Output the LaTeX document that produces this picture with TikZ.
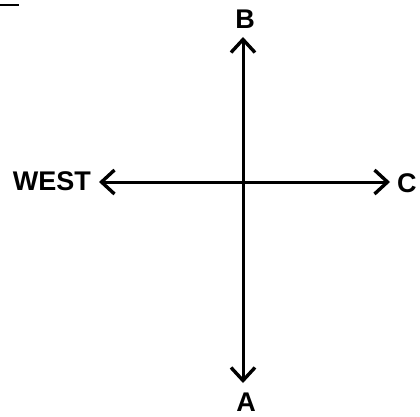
\documentclass[tikz,border=0pt]{standalone}
\usepackage{fontspec}
\setmainfont{Liberation Sans}
\usetikzlibrary{arrows.meta}
\begin{document}
\begin{tikzpicture}[x=1pt,y=1pt,
  axis/.style={line width=3pt,{Straight Barb[length=13pt,width=24pt,line width=3.4pt]}-{Straight Barb[length=13pt,width=24pt,line width=3.4pt]}},
  lbl/.style={font=\fontsize{27}{30}\selectfont\bfseries,inner sep=0pt}]
\useasboundingbox (0,0) rectangle (420,416);
\fill[white] (0,0) rectangle (420,416);
\coordinate (top) at (243,379);
\coordinate (bot) at (243,33);
\coordinate (lft) at (99,234);
\coordinate (rgt) at (390,234);
\coordinate (d1) at (0,411);
\coordinate (d2) at (19,411);
\draw[line width=2pt] (d1) -- (d2);
\draw[axis] (bot) -- (top);
\draw[axis] (lft) -- (rgt);
\node[lbl] (B) at (245,397) {B};
\node[lbl] (A) at (246,14) {A};
\node[lbl,anchor=east] (W) at (91,235) {WEST};
\node[lbl,anchor=west] (C) at (397,233) {C};
\end{tikzpicture}
\end{document}
